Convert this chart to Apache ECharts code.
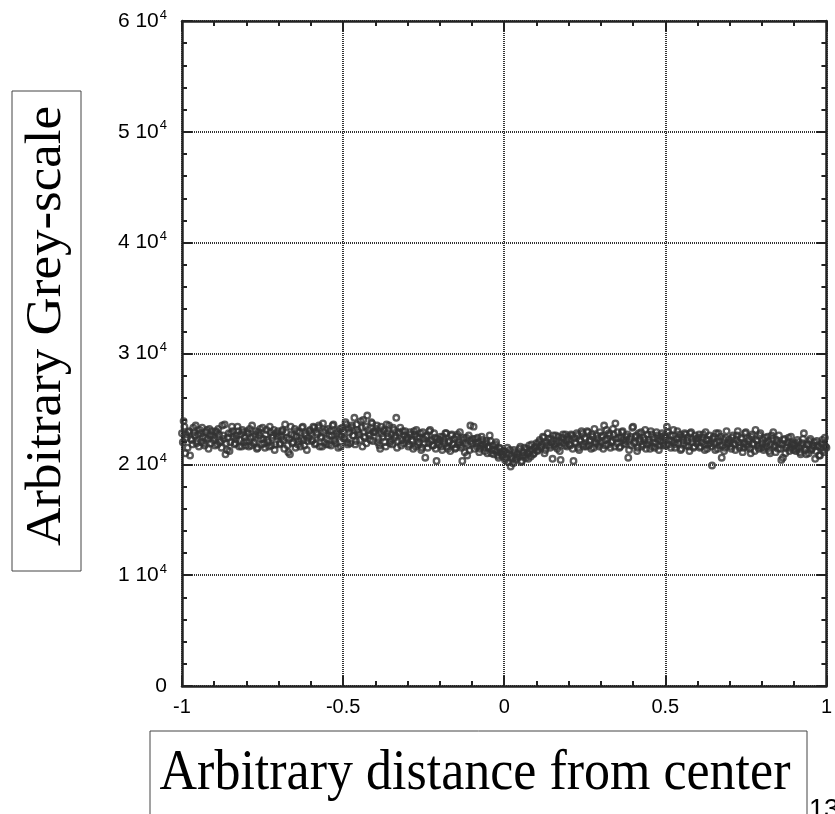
<!DOCTYPE html>
<html><head><meta charset="utf-8">
<script src="https://cdn.jsdelivr.net/npm/echarts@6/dist/echarts.min.js"></script>
<style>html,body{margin:0;padding:0;background:#fff}#c{width:835px;height:814px}</style>
</head><body><div id="c"></div>
<script>
// x positions: evenly spaced profile samples; series A starts at -1, series B sits halfway between
const xFirstA = -1;
const xFirstB = -0.9975;
const xSampleStep = 0.005;
// grey-scale values, in thousands
const greyKA = [
22.8,23.9,21.0,22.4,22.9,20.8,22.2,23.3,22.6,21.9,22.7,23.1,22.0,22.5,21.7,22.9,22.3,23.2,21.9,22.6,
22.4,23.0,21.8,22.7,22.1,23.5,22.3,20.9,21.3,22.8,22.0,23.4,22.5,21.9,22.6,23.0,22.2,21.6,22.9,22.4,
22.1,22.8,23.2,21.7,22.5,22.0,23.0,21.5,22.6,22.3,23.3,21.9,22.7,22.2,21.6,22.9,22.4,23.1,21.8,22.5,
22.6,21.9,23.0,22.2,23.6,22.4,21.1,20.9,22.7,22.0,23.2,22.5,21.8,22.9,22.3,23.4,21.7,22.6,22.1,23.0,
22.8,22.2,23.3,21.9,22.7,23.5,22.4,21.6,22.9,23.1,22.3,21.8,23.0,22.6,23.6,22.1,22.8,21.5,23.2,22.5,
23.0,22.4,23.6,21.8,22.9,23.3,22.6,24.2,22.1,23.1,22.7,23.9,21.6,22.5,23.4,24.4,22.8,22.2,23.7,22.9,
22.9,23.5,22.3,21.4,22.8,23.1,22.0,23.6,22.5,21.9,22.7,23.3,22.4,24.2,22.1,22.8,21.7,23.0,22.6,22.2,
22.4,21.8,22.7,22.1,23.0,21.6,22.5,22.0,22.8,21.5,22.3,20.6,22.6,21.9,23.1,22.2,21.7,22.4,20.3,22.0,
22.2,21.6,22.5,21.9,22.8,21.4,22.1,22.6,21.8,22.3,21.5,22.7,22.0,21.7,20.3,22.4,21.9,20.8,22.6,23.5,
21.9,23.4,22.3,21.6,22.0,21.4,22.5,21.8,21.2,22.1,21.5,22.6,21.0,21.7,21.3,22.0,20.8,21.5,21.1,20.7,
21.2,20.6,21.5,20.9,19.8,20.5,21.3,20.4,21.0,20.7,21.6,20.3,21.1,20.8,21.4,20.5,21.2,21.8,20.9,21.5,
21.9,21.3,22.2,21.6,22.5,21.0,22.0,22.8,21.7,22.3,20.5,21.8,22.6,21.4,22.1,20.4,22.4,21.9,22.7,21.6,
22.3,21.7,22.6,20.3,22.0,22.8,21.5,22.2,23.0,21.8,22.4,21.6,22.9,22.1,21.4,22.5,23.2,21.9,22.3,21.6,
22.0,22.6,23.5,21.7,22.3,22.8,21.5,22.1,22.7,23.7,21.9,22.4,21.6,22.9,22.2,21.8,22.5,20.6,22.3,21.7,
23.4,22.0,22.6,21.5,22.3,22.9,21.8,22.2,21.4,22.7,22.0,23.0,21.6,22.4,21.9,22.6,21.3,22.1,22.8,21.7,
22.4,23.4,21.8,22.6,22.1,23.1,21.5,22.3,21.9,22.7,21.4,22.2,22.8,21.7,22.4,21.2,22.9,22.0,21.6,22.3,
22.1,22.7,21.6,22.4,21.8,22.9,21.4,22.2,21.9,19.9,22.5,21.3,22.0,22.8,21.7,20.6,22.3,21.5,23.0,21.9,
22.0,21.4,22.6,21.8,22.2,23.0,21.5,22.4,21.1,21.9,22.9,21.6,22.3,21.0,22.7,21.8,23.1,22.1,21.4,22.8,
21.9,21.3,22.4,21.6,22.1,21.0,22.6,22.9,21.7,22.2,21.4,21.9,20.4,20.6,22.3,21.5,22.0,21.2,22.5,21.8,
21.7,21.2,22.2,21.5,20.9,21.9,22.8,21.3,21.8,21.0,22.3,21.4,21.7,20.5,22.1,21.6,20.8,21.9,21.3,22.4,21.5
];
const greyKB = [
22.0,23.4,22.7,21.5,23.0,22.3,21.8,22.9,23.5,22.1,21.6,22.8,23.3,21.9,22.4,23.1,21.4,22.6,23.0,22.2,
21.7,22.9,23.2,22.0,21.5,22.6,23.6,21.9,22.4,21.2,22.8,23.0,21.8,22.3,23.4,21.6,22.7,23.1,22.0,21.7,
23.0,21.6,22.4,23.5,21.9,22.7,21.4,22.9,23.2,21.8,22.3,21.5,23.1,22.0,23.4,21.7,22.6,21.3,22.8,23.0,
21.8,22.5,23.1,21.4,22.9,21.7,22.3,23.4,21.9,22.6,21.5,23.0,22.1,21.6,23.3,22.2,22.8,21.3,22.4,23.1,
22.1,23.4,21.8,22.9,23.3,21.6,22.5,23.7,22.0,21.8,23.2,22.6,21.7,23.5,22.2,21.9,23.0,22.7,21.6,23.3,
22.3,23.8,22.0,23.2,21.9,23.5,22.6,21.8,23.6,22.9,22.2,23.3,24.0,22.4,21.9,23.1,22.6,23.8,22.1,23.0,
23.2,22.0,21.7,23.4,22.5,23.0,21.6,22.8,23.5,22.1,21.8,23.1,22.6,21.5,22.9,23.3,22.2,21.9,23.0,22.4,
21.6,22.9,22.2,21.4,22.7,23.1,21.8,22.4,21.3,22.9,21.9,22.5,21.5,23.0,22.1,21.7,22.8,21.4,22.3,21.8,
22.5,21.3,22.2,22.8,21.6,22.0,21.2,22.7,21.9,21.4,22.5,21.8,22.9,21.5,22.2,21.1,22.4,21.7,21.3,22.1,
22.3,21.4,21.9,22.4,21.1,21.7,22.2,21.5,21.9,21.0,21.6,22.1,21.3,20.9,21.8,21.2,20.6,21.4,20.9,21.2,
20.4,21.0,20.2,21.3,20.7,20.1,21.1,20.6,20.9,21.4,20.2,20.8,21.5,20.6,21.0,21.7,20.7,21.3,21.0,21.6,
21.2,22.0,21.5,21.8,22.4,21.3,21.7,22.3,21.5,22.0,22.6,21.6,21.9,22.5,21.2,22.0,22.7,21.7,22.2,22.5,
21.8,22.7,21.4,22.4,21.9,22.6,21.3,22.1,22.8,21.6,22.3,23.0,21.7,22.2,22.7,21.5,22.0,22.6,21.8,22.9,
22.5,21.4,22.2,23.1,21.8,22.6,22.0,23.2,21.6,22.3,22.9,21.5,22.4,23.0,21.9,22.1,22.7,21.3,22.5,23.3,
21.9,22.5,21.2,22.8,22.1,21.6,22.4,23.1,21.8,22.2,21.4,22.7,22.0,21.5,22.9,22.3,21.7,22.5,21.9,22.6,
21.7,22.9,22.2,21.5,22.6,22.0,21.8,23.0,22.4,21.3,22.5,21.9,22.7,22.1,21.6,22.8,22.3,21.5,22.6,21.9,
22.4,21.5,22.0,22.7,21.3,22.2,21.8,22.6,21.6,22.3,21.9,22.8,21.4,22.1,22.5,21.7,21.2,22.4,21.8,22.2,
21.6,22.4,21.9,21.3,22.6,22.0,21.7,22.3,21.5,22.8,21.8,22.1,21.4,22.5,21.9,21.2,22.2,21.7,22.6,21.5,
22.2,21.5,21.9,22.5,21.2,21.8,22.3,21.6,21.1,22.0,22.6,21.4,21.8,22.2,21.0,21.7,22.4,21.5,21.9,21.3,
21.9,21.4,22.0,21.1,21.7,22.3,21.5,20.9,21.8,22.1,21.3,21.6,22.0,21.2,21.7,20.8,21.5,22.2,21.1,21.6
];
const xTickLabels = ['-1', '-0.5', '0', '0.5', '1'];
const yTickMantissa = ['0', '1', '2', '3', '4', '5', '6'];
const yTitle = 'Arbitrary Grey-scale';
const xTitle = 'Arbitrary distance from center';
const pageNumber = '13';

const points = greyKA.map((v, i) => [xFirstA + i * xSampleStep, v * 1000])
  .concat(greyKB.map((v, i) => [xFirstB + i * xSampleStep, v * 1000]));

const chart = echarts.init(document.getElementById('c'), null, {renderer: 'canvas'});
const gridLine = {show: true, lineStyle: {color: '#333', width: 2, type: [1, 1]}};
const frame = {show: true, onZero: false, lineStyle: {color: '#222', width: 2.5}};
const ticks = {show: true, inside: true, length: 10, lineStyle: {color: '#222', width: 2}};
const minor = {show: true, splitNumber: 5, length: 5, lineStyle: {color: '#222', width: 2}};
chart.setOption({
  animation: false,
  backgroundColor: '#fff',
  grid: {left: 182, right: 5, top: 21, bottom: 128, containLabel: false},
  xAxis: [{
    type: 'value', min: -1, max: 1, interval: 0.5, position: 'bottom',
    axisLine: frame, axisTick: ticks, minorTick: minor, splitLine: gridLine,
    axisLabel: {margin: 11, color: '#000', fontFamily: 'Liberation Sans', fontSize: 20,
      formatter: (v) => xTickLabels[Math.round((v + 1) / 0.5)]}
  }, {
    type: 'value', min: -1, max: 1, interval: 0.5, position: 'top',
    axisLine: frame, axisTick: ticks, minorTick: minor, splitLine: {show: false},
    axisLabel: {show: false}
  }],
  yAxis: [{
    type: 'value', min: 0, max: 60000, interval: 10000, position: 'left',
    axisLine: frame, axisTick: ticks, minorTick: minor, splitLine: gridLine,
    axisLabel: {margin: 15, color: '#000', fontFamily: 'Liberation Sans',
      formatter: (v) => {
        const m = yTickMantissa[Math.round(v / 10000)];
        return v === 0 ? '{n|0}' : '{n|' + m + ' 10}{s|4}';
      },
      rich: {
        n: {fontSize: 21, fontFamily: 'Liberation Sans', color: '#000'},
        s: {fontSize: 13, fontFamily: 'Liberation Sans', color: '#000', padding: [0, 0, 12, 1]}
      }
    }
  }, {
    type: 'value', min: 0, max: 60000, interval: 10000, position: 'right',
    axisLine: frame, axisTick: ticks, minorTick: minor, splitLine: {show: false},
    axisLabel: {show: false}
  }],
  series: [{
    type: 'scatter', xAxisIndex: 0, yAxisIndex: 0,
    data: points, symbol: 'circle', symbolSize: 5.6,
    itemStyle: {color: 'rgba(0,0,0,0)', borderColor: '#333', borderWidth: 2.3},
    emphasis: {disabled: true}
  }],
  graphic: [
    {type: 'rect', shape: {x: 12, y: 91, width: 69, height: 480},
     style: {fill: '#fff', stroke: '#444', lineWidth: 1}},
    {type: 'text', x: 47, y: 326, rotation: Math.PI / 2, scaleX: 1.06,
     style: {text: yTitle, font: '50px "Liberation Serif"', fill: '#000', align: 'center', verticalAlign: 'middle'}},
    {type: 'rect', shape: {x: 150, y: 731, width: 657, height: 100},
     style: {fill: '#fff', stroke: '#444', lineWidth: 1}},
    {type: 'text', x: 475, y: 774, scaleY: 1.1,
     style: {text: xTitle, font: '52px "Liberation Serif"', fill: '#000', align: 'center', verticalAlign: 'middle'}},
    {type: 'text', x: 809, y: 797,
     style: {text: pageNumber, font: '27px "Liberation Sans"', fill: '#000', align: 'left', verticalAlign: 'top'}}
  ]
});
</script></body></html>
